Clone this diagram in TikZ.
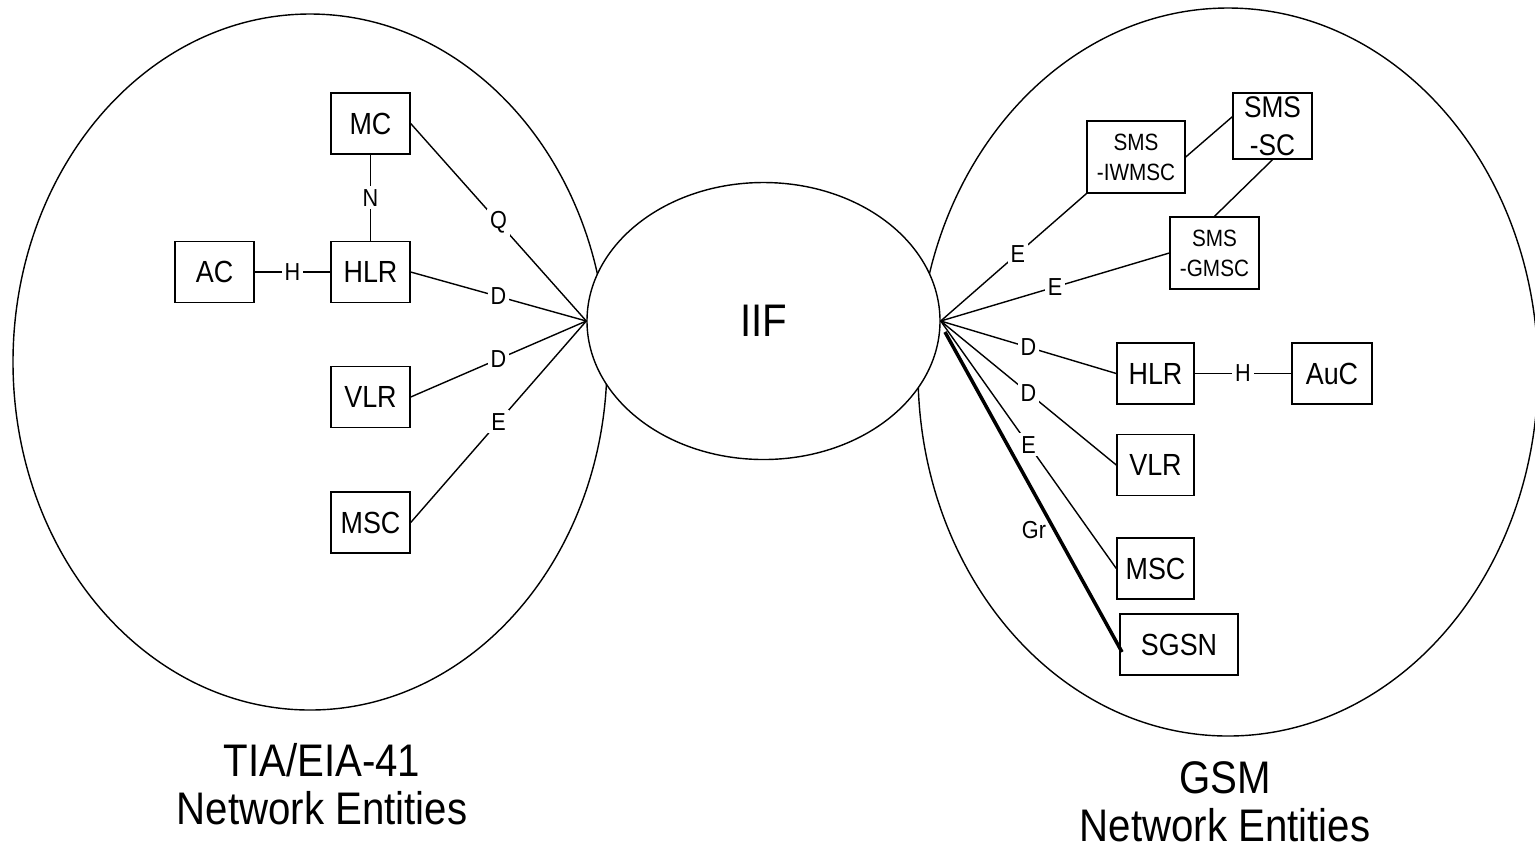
\documentclass[tikz,border=0pt]{standalone}
\usepackage{fontspec}
\setmainfont{Liberation Sans}[FakeStretch=0.88]
\usetikzlibrary{shapes.geometric}

\begin{document}
\begin{tikzpicture}[line width=0.4pt,
    ent/.style={draw, minimum width=0.79cm, minimum height=0.61cm, inner sep=0pt, font=\fontsize{8.7}{10.5}\selectfont},
    sms/.style={ent, align=center, font=\fontsize{6.7}{8.5}\selectfont},
    ifc/.style={fill=white, inner sep=0.8pt, font=\fontsize{7}{8}\selectfont},
    caption/.style={align=center, inner sep=0pt, font=\fontsize{13}{13.6}\selectfont}]
    \useasboundingbox (0, 0) rectangle (15.35, -8.53);

    % network domains
    \draw (3.10, -3.62) ellipse (2.97 and 3.48);
    \draw (12.28, -3.72) ellipse (3.10 and 3.64);
    \node[draw, ellipse, fill=white, minimum width=3.53cm, minimum height=2.77cm, inner sep=0pt,
        font=\fontsize{13}{15}\selectfont] (iif) at (7.635, -3.21) {IIF};

    % TIA/EIA-41 side
    \node[ent] (mc) at (3.705, -1.235) {MC};
    \node[ent] (hlra) at (3.705, -2.72) {HLR};
    \node[ent] (ac) at (2.145, -2.72) {AC};
    \node[ent] (vlra) at (3.705, -3.97) {VLR};
    \node[ent] (msca) at (3.705, -5.225) {MSC};

    \draw (mc.south) -- node[ifc] {N} (hlra.north);
    \draw (ac.east) -- node[ifc] {H} (hlra.west);
    \draw (iif.west) -- node[ifc] {Q} (mc.east);
    \draw (iif.west) -- node[ifc] {D} (hlra.east);
    \draw (iif.west) -- node[ifc] {D} (vlra.east);
    \draw (iif.west) -- node[ifc] {E} (msca.east);

    % GSM side
    \node[sms, minimum width=0.98cm, minimum height=0.72cm] (iwmsc) at (11.36, -1.57) {SMS\\-IWMSC};
    \node[ent, align=center, minimum height=0.66cm, font=\fontsize{8.5}{10.8}\selectfont] (smssc) at (12.725, -1.26) {SMS\\-SC};
    \node[sms, minimum width=0.89cm, minimum height=0.72cm] (gmsc) at (12.145, -2.53) {SMS\\-GMSC};
    \node[ent, minimum width=0.77cm] (hlrb) at (11.555, -3.735) {HLR};
    \node[ent, minimum width=0.80cm] (auc) at (13.32, -3.735) {AuC};
    \node[ent, minimum width=0.77cm] (vlrb) at (11.555, -4.65) {VLR};
    \node[ent, minimum width=0.77cm] (mscb) at (11.555, -5.685) {MSC};
    \node[ent, minimum width=1.18cm] (sgsn) at (11.79, -6.445) {SGSN};

    \draw (smssc.167) -- (iwmsc.east);
    \draw (smssc.south) -- (gmsc.north);
    \draw (hlrb.east) -- node[ifc] {H} (auc.west);
    \draw (iif.east) -- node[ifc, pos=0.53] {E} (iwmsc.south west);
    \draw (iif.east) -- node[ifc] {E} (gmsc.west);
    \draw (iif.east) -- node[ifc] {D} (hlrb.west);
    \draw (iif.east) -- node[ifc] {D} (vlrb.west);
    \draw (iif.east) -- node[ifc] {E} (mscb.west);

    \coordinate (grtop) at (9.45, -3.32);
    \coordinate (grend) at (11.22, -6.52);
    \draw[line width=1pt] (grtop) -- node[pos=0.62, left, inner sep=2pt, font=\fontsize{7}{8}\selectfont] {Gr} (grend);

    % captions
    \node[caption] (tiacap) at (3.22, -7.84) {TIA/EIA-41\\Network Entities};
    \node[caption] (gsmcap) at (12.25, -8.02) {GSM\\Network Entities};
\end{tikzpicture}
\end{document}
